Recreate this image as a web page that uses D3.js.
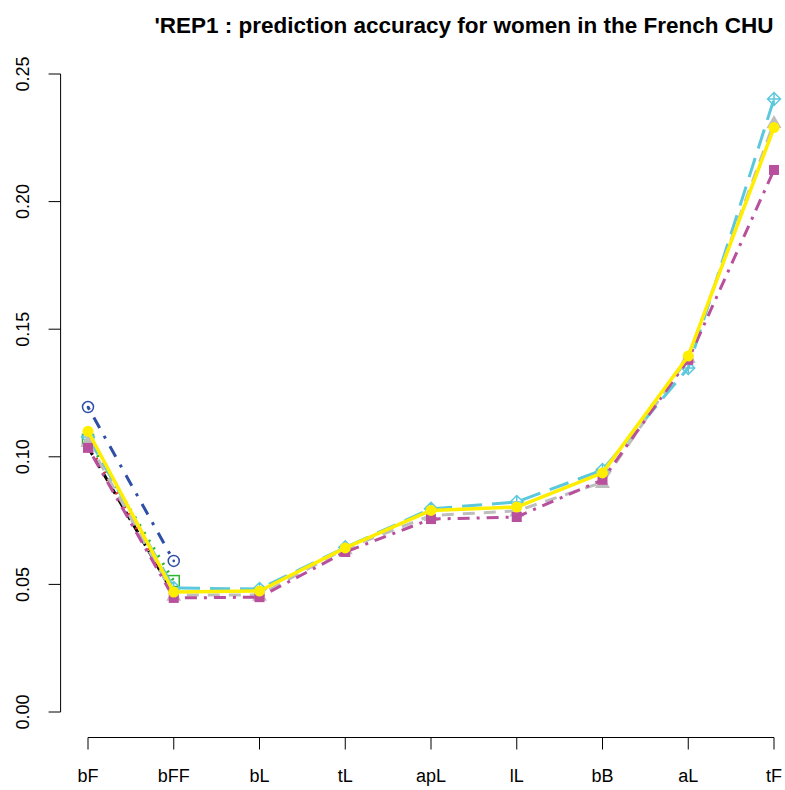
<!DOCTYPE html>
<html>
<head>
<meta charset="utf-8">
<script src="https://cdn.jsdelivr.net/npm/d3@7"></script>
<style>
  body { margin: 0; background: #fff; }
  svg { display: block; font-family: "Liberation Sans", Arial, sans-serif; }
</style>
</head>
<body>
<svg id="chart" width="785" height="790"></svg>
<script>
const width = 785, height = 790;

const categories = ["bF", "bFF", "bL", "tL", "apL", "lL", "bB", "aL", "tF"];
const yTicks = [0.00, 0.05, 0.10, 0.15, 0.20, 0.25];

// series values, in draw order
const blackVals   = [0.1038, 0.0462];
const redVals     = [0.1050, 0.0468];
const greenVals   = [0.1066, 0.0513];
const blueVals    = [0.1195, 0.0592];
const cyanVals    = [0.1078, 0.0486, 0.0482, 0.0645, 0.0796, 0.0823, 0.0948, 0.1348, 0.2402];
const greyVals    = [0.1060, 0.0458, 0.0458, 0.0640, 0.0770, 0.0788, 0.0900, 0.1390, 0.2310];
const magentaVals = [0.1035, 0.0447, 0.0450, 0.0627, 0.0756, 0.0764, 0.0910, 0.1380, 0.2124];
const yellowVals  = [0.1100, 0.0470, 0.0474, 0.0643, 0.0790, 0.0803, 0.0937, 0.1395, 0.2290];

const series = [
  {vals: blackVals,   color: "#000000", dash: "9,6",        pch: null,       lw: 3},
  {vals: redVals,     color: "#E8332A", dash: "2,6",        pch: null,       lw: 3},
  {vals: greenVals,   color: "#2DB52D", dash: "2,7",        pch: "square",   lw: 3},
  {vals: blueVals,    color: "#2E4FA6", dash: "3,9,12,9",   pch: "circdot",  lw: 3},
  {vals: cyanVals,    color: "#5CC8DE", dash: "20,10",      pch: "diamplus", lw: 3},
  {vals: greyVals,    color: "#BEBEBE", dash: "12,9",       pch: "triangle", lw: 3},
  {vals: magentaVals, color: "#B8509E", dash: "3,7,12,7",   pch: "fsquare",  lw: 3},
  {vals: yellowVals,  color: "#FFEE00", dash: null,         pch: "fcircle",  lw: 3.5}
];

// plot region (R style, 4% extension)
const plotLeft = 60.6, plotBottom = 737.5;

const x = d3.scalePoint().domain(categories).range([88, 774]);
const y = d3.scaleLinear().domain([0, 0.25]).range([712, 74]);

const svg = d3.select("#chart");

// title
svg.append("text")
  .attr("x", 464)
  .attr("y", 33)
  .attr("text-anchor", "middle")
  .attr("font-weight", "bold")
  .attr("font-size", 22.5)
  .text("'REP1 : prediction accuracy for women in the French CHU");

// x axis
const xAxis = svg.append("g").attr("transform", `translate(0,${plotBottom})`);
xAxis.append("line").attr("x1", x(categories[0])).attr("x2", x(categories[categories.length - 1]))
  .attr("stroke", "#000").attr("stroke-width", 1);
xAxis.selectAll("line.tick").data(categories).join("line")
  .attr("class", "tick")
  .attr("x1", d => x(d)).attr("x2", d => x(d))
  .attr("y1", 0).attr("y2", 12)
  .attr("stroke", "#000");
xAxis.selectAll("text").data(categories).join("text")
  .attr("x", d => x(d)).attr("y", 44)
  .attr("text-anchor", "middle")
  .attr("font-size", 18)
  .text(d => d);

// y axis
const yAxis = svg.append("g").attr("transform", `translate(${plotLeft},0)`);
yAxis.append("line").attr("y1", y(0)).attr("y2", y(0.25))
  .attr("stroke", "#000");
yAxis.selectAll("line.tick").data(yTicks).join("line")
  .attr("class", "tick")
  .attr("x1", 0).attr("x2", -12)
  .attr("y1", d => y(d)).attr("y2", d => y(d))
  .attr("stroke", "#000");
yAxis.selectAll("text").data(yTicks).join("text")
  .attr("transform", d => `translate(-32,${y(d)}) rotate(-90)`)
  .attr("text-anchor", "middle")
  .attr("font-size", 18)
  .text(d => d.toFixed(2));

const line = d3.line().x((d, i) => x(categories[i])).y(d => y(d));

function drawPoint(g, pch, color, cx, cy) {
  if (pch === "square") {
    g.append("rect").attr("x", cx - 5.5).attr("y", cy - 5.5).attr("width", 11).attr("height", 11)
      .attr("fill", "none").attr("stroke", color).attr("stroke-width", 1.5);
  } else if (pch === "circdot") {
    g.append("circle").attr("cx", cx).attr("cy", cy).attr("r", 5.5)
      .attr("fill", "none").attr("stroke", color).attr("stroke-width", 1.5);
    g.append("circle").attr("cx", cx).attr("cy", cy).attr("r", 1.3).attr("fill", color);
  } else if (pch === "diamplus") {
    const r = 6.5;
    g.append("path")
      .attr("d", `M${cx},${cy - r}L${cx + r},${cy}L${cx},${cy + r}L${cx - r},${cy}Z M${cx - r},${cy}H${cx + r} M${cx},${cy - r}V${cy + r}`)
      .attr("fill", "none").attr("stroke", color).attr("stroke-width", 1.5);
  } else if (pch === "triangle") {
    const r = 7.5;
    g.append("path")
      .attr("d", `M${cx},${cy - r}L${cx + r},${cy + r * 0.75}L${cx - r},${cy + r * 0.75}Z`)
      .attr("fill", color);
  } else if (pch === "fsquare") {
    g.append("rect").attr("x", cx - 5).attr("y", cy - 5).attr("width", 10).attr("height", 10).attr("fill", color);
  } else if (pch === "fcircle") {
    g.append("circle").attr("cx", cx).attr("cy", cy).attr("r", 5.5).attr("fill", color);
  }
}

const plot = svg.append("g");
series.forEach(s => {
  const g = plot.append("g");
  g.append("path").datum(s.vals)
    .attr("d", line)
    .attr("fill", "none")
    .attr("stroke", s.color)
    .attr("stroke-width", s.lw)
    .attr("stroke-dasharray", s.dash)
    .attr("stroke-linejoin", "round");
  if (s.pch) s.vals.forEach((v, i) => drawPoint(g, s.pch, s.color, x(categories[i]), y(v)));
});
</script>
</body>
</html>
